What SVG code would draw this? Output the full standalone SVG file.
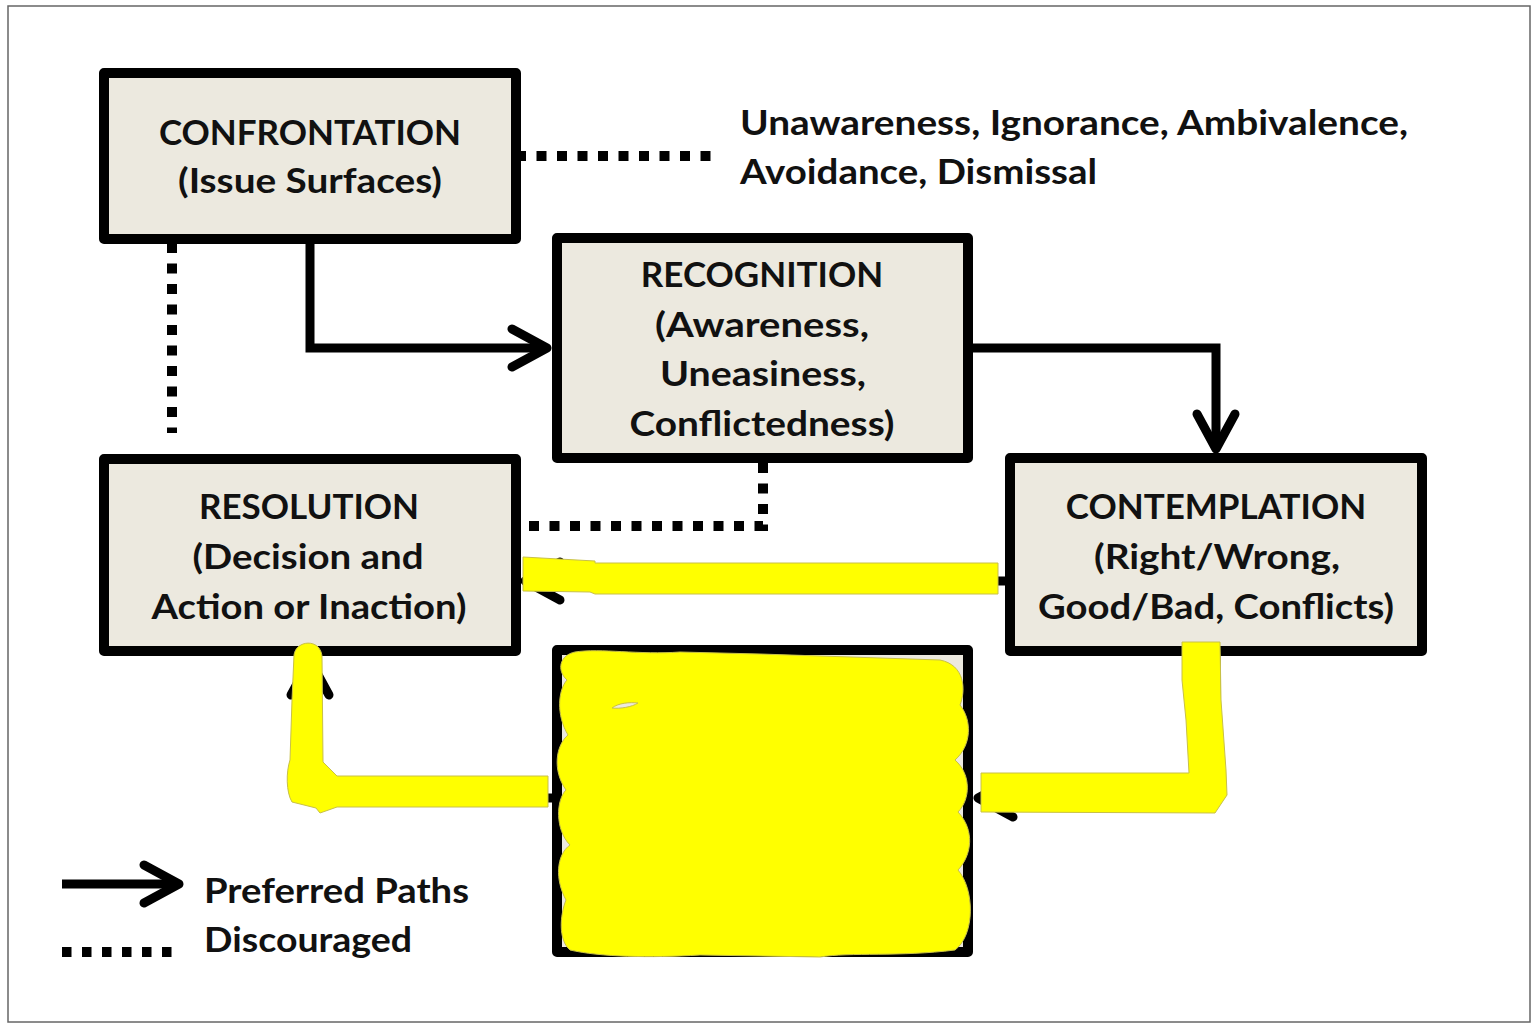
<svg xmlns="http://www.w3.org/2000/svg" width="1537" height="1024" viewBox="0 0 1537 1024">
<style>
.box{fill:#ECE9DF;stroke:#000;stroke-width:10;stroke-linejoin:round}
.lbl{font-family:Lato,"Liberation Sans",sans-serif;font-weight:700;font-size:35px;fill:#111}
.c{text-anchor:middle}
.solid{fill:none;stroke:#000;stroke-width:9;stroke-linejoin:miter}
.dot{fill:none;stroke:#000;stroke-width:10;stroke-dasharray:10 10.5}
.hl{fill:#FFFF00;stroke:#C8C048;stroke-width:1}
</style>
<defs>
<marker id="chev" markerUnits="userSpaceOnUse" viewBox="-45 -28 52 56" refX="0" refY="0" markerWidth="52" markerHeight="56" orient="auto">
<path d="M-35,-19 L0,0 L-35,19" fill="none" stroke="#000" stroke-width="9" stroke-linecap="round" stroke-linejoin="round"/>
</marker>
</defs>
<rect x="0" y="0" width="1537" height="1024" fill="#fff"/>
<rect x="8" y="6" width="1522" height="1016" fill="none" stroke="#666" stroke-width="1.5"/>

<g id="connectors">
<path class="solid" d="M310,241 V348 H547" marker-end="url(#chev)"/>
<path class="solid" d="M973,348 H1216 V449" marker-end="url(#chev)"/>
<path class="solid" d="M1005,581 H525" marker-end="url(#chev)"/>
<path class="solid" d="M552,798 H310 V660" marker-end="url(#chev)"/>
<path class="solid" d="M1216,655 V798 H978" marker-end="url(#chev)"/>
<path class="dot" d="M516,156 H712"/>
<path class="dot" d="M172,243 V433"/>
<path class="dot" d="M763,463 V526 H522"/>
</g>

<g id="confrontation">
<rect class="box" x="104" y="73" width="412" height="166"/>
<text class="lbl c" x="310" y="145">CONFRONTATION</text>
<text class="lbl c" x="310" y="193" textLength="264" lengthAdjust="spacingAndGlyphs">(Issue Surfaces)</text>
</g>
<g id="recognition">
<rect class="box" x="557" y="238" width="411" height="220"/>
<text class="lbl c" x="762" y="287">RECOGNITION</text>
<text class="lbl c" x="762" y="337" textLength="214" lengthAdjust="spacingAndGlyphs">(Awareness,</text>
<text class="lbl c" x="763" y="386" textLength="206" lengthAdjust="spacingAndGlyphs">Uneasiness,</text>
<text class="lbl c" x="762" y="436" textLength="265" lengthAdjust="spacingAndGlyphs">Conflictedness)</text>
</g>
<g id="resolution">
<rect class="box" x="104" y="459" width="412" height="192"/>
<text class="lbl c" x="309" y="519">RESOLUTION</text>
<text class="lbl c" x="308" y="569" textLength="231" lengthAdjust="spacingAndGlyphs">(Decision and</text>
<text class="lbl c" x="309" y="619" textLength="315" lengthAdjust="spacingAndGlyphs">Action or Inaction)</text>
</g>
<g id="contemplation">
<rect class="box" x="1010" y="458" width="412" height="193"/>
<text class="lbl c" x="1216" y="519">CONTEMPLATION</text>
<text class="lbl c" x="1217" y="569" textLength="246" lengthAdjust="spacingAndGlyphs">(Right/Wrong,</text>
<text class="lbl c" x="1216" y="619" textLength="356" lengthAdjust="spacingAndGlyphs">Good/Bad, Conflicts)</text>
</g>
<g id="hidden-node">
<rect class="box" x="557" y="650" width="411" height="302"/>
</g>
<g id="attitudes">
<text class="lbl" x="740" y="135" textLength="668" lengthAdjust="spacingAndGlyphs">Unawareness, Ignorance, Ambivalence,</text>
<text class="lbl" x="740" y="184" textLength="357" lengthAdjust="spacingAndGlyphs">Avoidance, Dismissal</text>
</g>
<g id="legend">
<path class="solid" d="M62,884 H179" marker-end="url(#chev)"/>
<path class="dot" d="M62,952 H172" style="stroke-dasharray:9.5 10.5"/>
<text class="lbl" x="204" y="903" textLength="265" lengthAdjust="spacingAndGlyphs">Preferred Paths</text>
<text class="lbl" x="204" y="952" textLength="208" lengthAdjust="spacingAndGlyphs">Discouraged</text>
</g>

<g id="highlights">
<path class="hl" d="M523,557 L595,561 L595,563 L998,563 L998,594 L595,594 L590,592 L523,591 Z"/>
<path class="hl" d="M294,655 C296,640 320,638 322,656 L323,762 L337,776 L548,776 L548,807 L337,807 L320,813 L316,808 L292,802 C286,792 286,772 290,760 L292,700 Z"/>
<path class="hl" d="M1182,642 L1220,642 L1221,700 L1226,770 L1227,795 L1215,813 L981,812 L981,773 L1189,773 L1186,720 L1182,680 Z"/>
<path class="hl" d="M575,652 C600,648 640,655 680,652 L760,654 C820,656 880,658 940,660 C965,665 966,690 960,705 C972,720 972,745 955,760 C972,775 970,800 958,812 C975,830 972,855 958,870 C975,890 975,935 955,950 C900,957 850,952 820,957 L700,955 C650,958 600,957 570,950 C558,940 560,915 566,900 C555,880 556,855 570,845 C555,830 556,800 566,790 C552,770 556,745 568,735 C556,715 558,690 567,680 C556,670 560,655 575,652 Z"/>
<path d="M612,708 C618,703 630,702 638,703 C632,707 620,709 612,708 Z" fill="#ECE9DF" stroke="#C8C048" stroke-width="1"/>
</g>
</svg>
